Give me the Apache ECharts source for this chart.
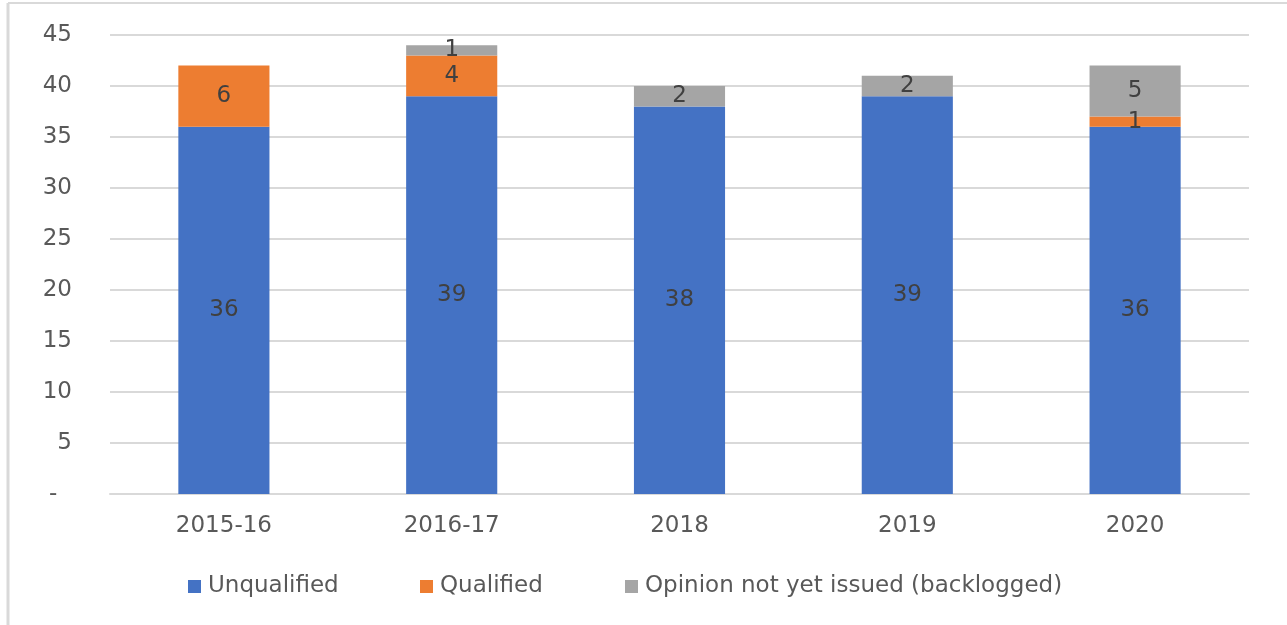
<!DOCTYPE html>
<html>
<head>
<meta charset="utf-8">
<script src="https://cdn.jsdelivr.net/npm/echarts@6/dist/echarts.min.js"></script>
<style>
  html, body { margin: 0; padding: 0; background: #ffffff; }
  #chart { width: 1287px; height: 625px; }
</style>
</head>
<body>
<div id="chart"></div>
<script>
// Audit opinions by fiscal period
const categories = ['2015-16', '2016-17', '2018', '2019', '2020'];
const unqualified = [36, 39, 38, 39, 36];
const qualified = [6, 4, 0, 0, 1];
const backlogged = [0, 1, 2, 2, 5];
const seriesNames = ['Unqualified', 'Qualified', 'Opinion not yet issued (backlogged)'];
const seriesColors = ['#4472C4', '#ED7D31', '#A5A5A5'];
const yTicks = { min: 0, max: 45, interval: 5 };

const FONT = 'DejaVu Sans';
const TEXT = '#595959';
const SIZE = 23;

function barSeries(i, values) {
  return {
    name: seriesNames[i],
    type: 'bar',
    stack: 'total',
    barWidth: '40%',
    data: values,
    itemStyle: { color: seriesColors[i] },
    label: {
      show: true,
      position: 'inside',
      fontFamily: FONT,
      fontSize: SIZE,
      color: '#404040',
      formatter: p => (p.value ? String(p.value) : '')
    }
  };
}

// one legend block per series so each entry sits at its own column
const legendLefts = [183, 415, 620];
const legends = seriesNames.map((name, i) => ({
  data: [name],
  left: legendLefts[i],
  top: 570,
  itemWidth: 13,
  itemHeight: 13,
  icon: 'rect',
  textStyle: { fontFamily: FONT, fontSize: SIZE, color: TEXT, padding: [0, 0, 0, 2] }
}));

const chart = echarts.init(document.getElementById('chart'), null, { renderer: 'canvas' });
chart.setOption({
  animation: false,
  backgroundColor: '#ffffff',
  graphic: [
    { type: 'line', shape: { x1: 8, y1: 3, x2: 1287, y2: 3 }, style: { stroke: '#d9d9d9', lineWidth: 2 } },
    { type: 'line', shape: { x1: 8, y1: 3, x2: 8, y2: 625 }, style: { stroke: '#d9d9d9', lineWidth: 3 } }
  ],
  grid: { left: 110, right: 38, top: 35, bottom: 131, containLabel: false },
  legend: legends,
  xAxis: {
    type: 'category',
    data: categories,
    axisLine: { lineStyle: { color: '#d9d9d9', width: 2 } },
    axisTick: { show: false },
    axisLabel: { fontFamily: FONT, fontSize: SIZE, color: TEXT, margin: 21 }
  },
  yAxis: {
    type: 'value',
    min: yTicks.min,
    max: yTicks.max,
    interval: yTicks.interval,
    axisLine: { show: false },
    axisTick: { show: false },
    splitLine: { lineStyle: { color: '#d9d9d9', width: 2 } },
    axisLabel: {
      fontFamily: FONT,
      fontSize: SIZE,
      color: TEXT,
      margin: 38,
      formatter: v => (v === 0 ? '-  ' : String(v))
    }
  },
  series: [
    barSeries(0, unqualified),
    barSeries(1, qualified),
    barSeries(2, backlogged)
  ]
});
</script>
</body>
</html>
